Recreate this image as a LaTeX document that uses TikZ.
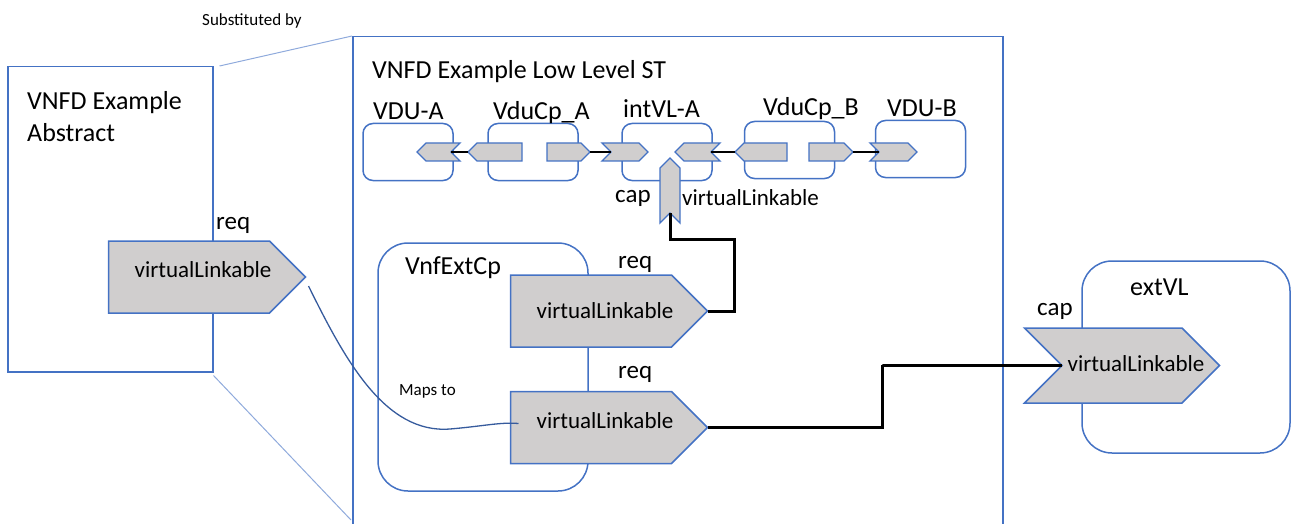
\documentclass[tikz,border=0pt]{standalone}
\usepackage{fontspec}
\setmainfont{Carlito}
\usepackage{tikz}
\usetikzlibrary{calc, positioning, shapes.symbols}
\definecolor{vnfBlue}{HTML}{4472C4}
\definecolor{zoomBlue}{HTML}{8FAADC}
\definecolor{portGray}{HTML}{D0CECE}
\newcommand{\fsz}[1]{\fontsize{#1}{#1}\selectfont}
\tikzset{
    outerBox/.style={rectangle, draw=vnfBlue, line width=1.5pt, inner sep=0pt},
    unit/.style={rectangle, rounded corners=10pt, draw=vnfBlue, line width=1.5pt, minimum width=90pt, minimum height=57pt},
    group/.style={rectangle, rounded corners=30pt, draw=vnfBlue, line width=1.5pt},
    port/.style={signal, signal pointer angle=90, draw=vnfBlue, fill=portGray, line width=1.3pt, inner sep=0pt, outer sep=0pt},
    reqPort/.style={port, signal from=nowhere, signal to=#1, minimum height=18pt},
    capPort/.style 2 args={port, signal to=#1, signal from=#2, minimum height=18pt},
    vlText/.style={font=\fsz{23}, inner sep=0pt, xshift=14pt},
    bigReq/.style={port, signal from=nowhere, signal to=east, minimum width=197pt, minimum height=72pt, line width=1.5pt,
        label={[vlText, yshift=#1]center:virtualLinkable}},
    bigReq/.default=0pt,
    bigCap/.style={port, signal from=west, signal to=east, minimum width=195pt, minimum height=75pt, line width=1.5pt,
        label={[vlText, yshift=2pt]center:virtualLinkable}},
    link/.style={draw=black, line width=3pt},
    thinLink/.style={draw=black, line width=1.3pt},
    zoomLine/.style={draw=zoomBlue, line width=1pt},
    mapLine/.style={draw=vnfBlue!80!black, line width=1.3pt}
}
\begin{document}
\begin{tikzpicture}[x=1pt, y=-1pt,
        lbl/.style={inner sep=0pt, anchor=base west, font=\fsz{26}},
        note/.style={inner sep=0pt, anchor=base west, font=\fsz{17}},
    ]
    \clip (0,0) rectangle (1293,524);

    % --- abstract VNFD ---
    \node[outerBox, anchor=north west, minimum width=205pt, minimum height=305pt] (abstract) at (7,66) {};
    \node[anchor=north west, inner sep=0pt, align=left, font=\fontsize{26}{32}\selectfont] (absTitle) at (27,91) {VNFD Example\\Abstract};
    \node[bigReq=7pt] (absReq) at (189,277) {};
    \node[lbl, font=\fsz{25}] (absReqLbl) at (216,229) {req};

    % --- low level ST ---
    \node[outerBox, anchor=north west, minimum width=650pt, minimum height=520pt] (lowST) at (352,36) {};
    \node[lbl] (lowTitle) at (372,79) {VNFD Example Low Level ST};
    \node[note] (subst) at (202,26) {Substituted by};
    \coordinate (lowFoot) at (351,520);
    \draw[zoomLine] ($(abstract.north east)+(6,0)$) -- (lowST.north west);
    \draw[zoomLine] ($(abstract.south east)+(0,3)$) -- (lowFoot);

    % VDUs, CPs and internal VL
    \node[unit] (vduA) at (408,152) {};
    \node[unit] (cpA) at (533,152) {};
    \node[unit] (intVL) at (667,152) {};
    \node[unit] (cpB) at (789.5,150) {};
    \node[unit] (vduB) at (920.5,149) {};
    \node[lbl] (vduALbl) at (373,120) {VDU-A};
    \node[lbl] (cpALbl) at (493,120) {VduCp\_A};
    \node[lbl] (intVLLbl) at (623,118) {intVL-A};
    \node[lbl] (cpBLbl) at (763,116) {VduCp\_B};
    \node[lbl] (vduBLbl) at (887,117) {VDU-B};

    \node[capPort={west}{east}, minimum width=43pt] (vduAPort) at (438.5,152) {};
    \node[reqPort=west, minimum width=54pt] (cpAIn) at (499.5,152) {};
    \node[reqPort=east, minimum width=43pt] (cpAOut) at (564,152) {};
    \node[capPort={east}{west}, minimum width=46pt] (intIn) at (625,152) {};
    \node[capPort={west}{east}, minimum width=45pt] (intOut) at (697.5,152) {};
    \node[reqPort=west, minimum width=52pt] (cpBIn) at (765.5,152) {};
    \node[reqPort=east, minimum width=44pt] (cpBOut) at (826.5,152) {};
    \node[capPort={east}{west}, minimum width=47pt] (vduBPort) at (893.5,152) {};
    \draw[thinLink] (vduAPort.east) -- (cpAIn.west);
    \draw[thinLink] (cpAOut.east) -- (intIn.west);
    \draw[thinLink] (intOut.east) -- (cpBIn.west);
    \draw[thinLink] (cpBOut.east) -- (vduBPort.west);

    \node[capPort={north}{south}, minimum width=20pt, minimum height=45pt] (intCap) at (670,190.5) {};
    \node[lbl, font=\fsz{25}] (intCapLbl) at (615,202) {cap};
    \node[lbl, font=\fsz{23}] (intCapName) at (682,205) {virtualLinkable};

    % --- external CP ---
    \node[group, minimum width=210pt, minimum height=248pt] (extCp) at (483,367) {};
    \node[lbl] (extCpLbl) at (405,274) {VnfExtCp};
    \node[bigReq] (upReq) at (591,311) {};
    \node[bigReq=7pt] (downReq) at (591,427.5) {};
    \node[lbl, font=\fsz{25}] (upReqLbl) at (618,268) {req};
    \node[lbl, font=\fsz{25}] (downReqLbl) at (618,378) {req};
    \node[note] (mapsLbl) at (399,395) {Maps to};

    % --- external VL ---
    \node[group, minimum width=208pt, minimum height=192pt] (extVL) at (1186,357) {};
    \node[lbl] (extVLLbl) at (1130,295) {extVL};
    \node[bigCap] (extCap) at (1122,365.5) {};
    \node[lbl, font=\fsz{25}] (extCapLbl) at (1037,315) {cap};

    % connections
    \coordinate (capBend) at (734,239);
    \draw[link] (upReq.east) -| (capBend) -| (intCap.south);
    \coordinate (extBend) at (882,365);
    \draw[link] (downReq.east) -| (extBend) |- (extCap.west);
    \draw[mapLine] ($(absReq.east)+(3,9)$) .. controls (345,360) and (385,434) .. (450,429)
        .. controls (485,426) and (500,422) .. ($(downReq.west)+(8,-4)$);
\end{tikzpicture}
\end{document}
